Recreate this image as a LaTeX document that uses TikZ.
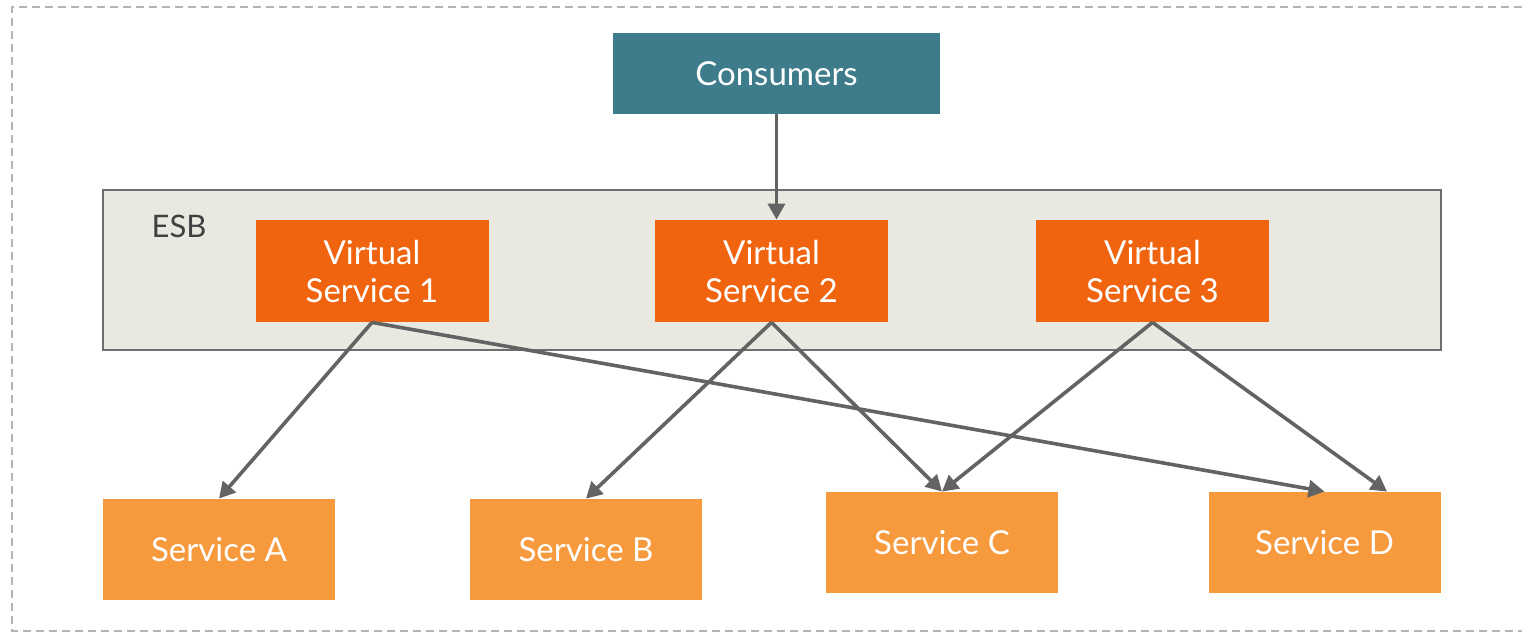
\documentclass[tikz,border=0pt]{standalone}
\usepackage{fontspec}
\setmainfont{Lato}
\usepackage{xcolor}
\usetikzlibrary{arrows.meta,positioning,calc}
\definecolor{consteal}{HTML}{3E7C8C}
\definecolor{virtorange}{HTML}{F0640F}
\definecolor{servorange}{HTML}{F79A3E}
\definecolor{esbfill}{HTML}{EAE9E1}
\definecolor{esbdraw}{HTML}{6E6E6E}
\definecolor{arrowgray}{HTML}{636363}
\definecolor{framegray}{HTML}{B4B4B4}
\tikzstyle{line} = [draw, arrowgray, line width=1.8pt, -{Triangle[length=8pt,width=8.5pt]}]
\tikzstyle{box} = [rectangle, inner sep=0pt, text=white, align=center, font=\fontsize{16.5}{19}\selectfont]
\tikzstyle{virtbox} = [box, fill=virtorange, minimum width=116.5pt, minimum height=51pt]
\tikzstyle{servbox} = [box, fill=servorange, minimum width=116pt, minimum height=50.5pt]

\begin{document}
\begin{tikzpicture}[x=0.5pt,y=-0.5pt]
		\useasboundingbox (0,0) rectangle (1522,636);
		
		\draw[framegray, line width=1pt, dash pattern=on 4pt off 2.5pt] (1522,7) -- (12,7) -- (12,631) -- (1522,631); %outer frame
		
		\node[box, fill=consteal, minimum width=163.5pt, minimum height=40.5pt] (cons) at (776.5,73.5) {Consumers}; %top
		
		\draw[esbfill, fill=esbfill] (103,190) rectangle (1441,350); %bus
		\draw[esbdraw, line width=1pt] (103,190) rectangle (1441,350);
		\node[text=black!75, font=\fontsize{15.5}{18}\selectfont] (esb) at (179,226) {ESB};
		
		% virtual services
		\node[virtbox] (vs1) at (372,271) {Virtual\\Service 1};
		\node[virtbox] (vs2) at (771.5,271) {Virtual\\Service 2};
		\node[virtbox] (vs3) at (1152.5,271) {Virtual\\Service 3};
		
		% real services
		\node[servbox] (sa) at (219,549.5) {Service A};
		\node[servbox] (sb) at (586,549.5) {Service B};
		\node[servbox] (sc) at (942,542.5) {Service C};
		\node[servbox] (sd) at (1324.5,542.5) {Service D};
		
		\path[line] (cons.south) -- (cons.south |- vs2.north);
		\path[line] (vs1.south) -- (sa.north);
		\path[line] (vs1.south) -- (sd.north);
		\path[line] (vs2.south) -- (sb.north);
		\path[line] (vs2.south) -- (sc.north);
		\path[line] (vs3.south) -- (sc.north);
		\path[line] (vs3.south) -- ($(sd.north)+(62.5,0)$);
		
\end{tikzpicture}
\end{document}
